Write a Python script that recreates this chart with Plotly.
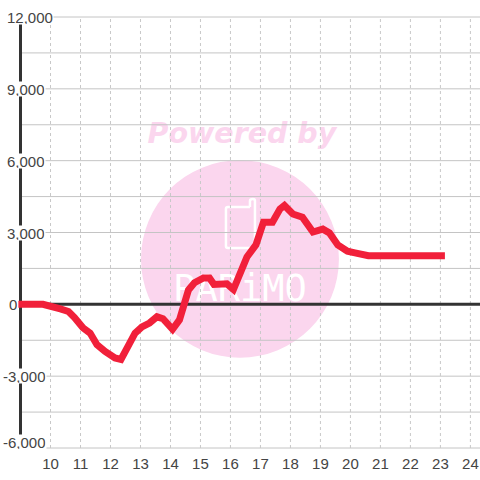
import plotly.graph_objects as go

x_ticks = list(range(10, 25))
y_major = [12000, 9000, 6000, 3000, 0, -3000, -6000]
y_minor = [10500, 7500, 4500, 1500, -1500, -4500]
y_labels = ["12,000", "9,000", "6,000", "3,000", "0", "-3,000", "-6,000"]
hours = [8.93, 9.75, 10.33, 10.6, 10.8, 11.08, 11.32, 11.55, 11.82, 12.15, 12.35, 12.82, 13.05, 13.3, 13.55, 13.75,
         14.07, 14.3, 14.6, 14.8, 15.1, 15.3, 15.45, 15.88, 16.1, 16.55, 16.85, 17.1, 17.4, 17.65, 17.8, 18.08, 18.4,
         18.75, 19.08, 19.3, 19.58, 19.9, 20.15, 20.6, 21, 22, 23.15]
pl = [0, 0, -190, -300, -550, -980, -1200, -1690, -1970, -2240, -2300, -1200, -940, -780, -520, -600,
      -1040, -650, 600, 900, 1100, 1100, 830, 860, 620, 1980, 2480, 3430, 3430, 3980, 4130, 3770, 3640,
      3020, 3140, 2980, 2480, 2220, 2150, 2030, 2030, 2030, 2030]

XMIN, XMAX = 9, 24.32
YMIN, YMAX = -6000, 12000
X_PAD = 5.5 / 30
Y_PAD = 2 / 0.024
label_left = [6, 6, 6, 6, 8, 2, 2]
label_lift = [0, 0, 0, 0, 0, 0, 6]
PINK = "#fbd6ee"


def px(p):
    return 9 + (p - 20.5) / 30


def py(p):
    return (304.5 - p) / 0.024


fig = go.Figure()
# watermark
fig.add_shape(type="circle", xref="x", yref="y", x0=px(141), x1=px(339), y0=py(358), y1=py(160),
              fillcolor=PINK, line_width=0, layer="below")
logo = [("M", 250, 207), ("L", 228, 207), ("Q", 226, 207, 226, 209), ("L", 226, 246), ("Q", 226, 248, 228, 248),
        ("L", 253, 248), ("Q", 255, 248, 255, 246), ("L", 255, 201), ("Q", 255, 199, 253, 199), ("Q", 250, 199, 250, 201),
        ("L", 250, 207)]
path = " ".join(c[0] + " " + " ".join(f"{px(c[i]):.4f},{py(c[i + 1]):.1f}" for i in range(1, len(c), 2)) for c in logo)
fig.add_shape(type="path", xref="x", yref="y", path=path, line=dict(color="#ffffff", width=2.5), layer="below")
fig.add_trace(go.Scatter(x=[px(242)], y=[py(135.5)], mode="text", text=["Powered by"], hoverinfo="skip", showlegend=False,
                         textfont=dict(family="DejaVu Sans", size=28.5, color=PINK, weight="bold", style="italic")))
fig.add_trace(go.Scatter(x=[px(240)], y=[py(292)], mode="text", text=["PARiMO"], hoverinfo="skip", showlegend=False,
                         textfont=dict(family="DejaVu Sans Mono", size=37, color="#ffffff")))
# grid lines
for v in y_minor + y_major:
    fig.add_trace(go.Scatter(x=[XMIN, XMAX], y=[v, v], mode="lines", hoverinfo="skip", showlegend=False,
                             line=dict(color="#c4c4c4", width=1)))
for t in x_ticks:
    fig.add_trace(go.Scatter(x=[t, t], y=[YMIN, YMAX], mode="lines", hoverinfo="skip", showlegend=False,
                             line=dict(color="#c8c8c8", width=1, dash="3px,3px")))
fig.add_trace(go.Scatter(x=[XMIN, XMAX], y=[0, 0], mode="lines", hoverinfo="skip", showlegend=False,
                         line=dict(color="#333333", width=3)))
fig.add_trace(go.Scatter(x=[XMIN, XMIN], y=[YMIN, YMAX], mode="lines", hoverinfo="skip", showlegend=False,
                         line=dict(color="#333333", width=3)))
fig.add_trace(go.Scatter(x=hours, y=pl, mode="lines", name="P/L", showlegend=False,
                         line=dict(color="#f1203a", width=7)))
for v, s, left, lift in zip(y_major, y_labels, label_left, label_lift):
    fig.add_annotation(x=XMIN, y=v, text=s, showarrow=False, xanchor="left", yanchor="middle", xshift=left - 20.5, yshift=lift,
                       height=14, bgcolor="#ffffff", font=dict(family="Liberation Sans", size=15, color="#444444"), borderpad=0)
fig.update_xaxes(range=[XMIN - X_PAD, XMAX], tickvals=x_ticks, ticktext=[str(t) for t in x_ticks], showgrid=False, zeroline=False,
                 showline=False, ticks="", automargin=False, ticklabelstandoff=3,
                 tickfont=dict(family="Liberation Sans", size=15, color="#444444"))
fig.update_yaxes(range=[YMIN - Y_PAD, YMAX + Y_PAD], showgrid=False, zeroline=False, showline=False, showticklabels=False, ticks="", automargin=False)
fig.update_layout(width=480, height=480, margin=dict(l=15, r=0, t=14.5, b=29.5), paper_bgcolor="#ffffff", plot_bgcolor="#ffffff")
fig.write_html("out.html", config={"displayModeBar": False}, post_script="document.body.style.margin='0';")
